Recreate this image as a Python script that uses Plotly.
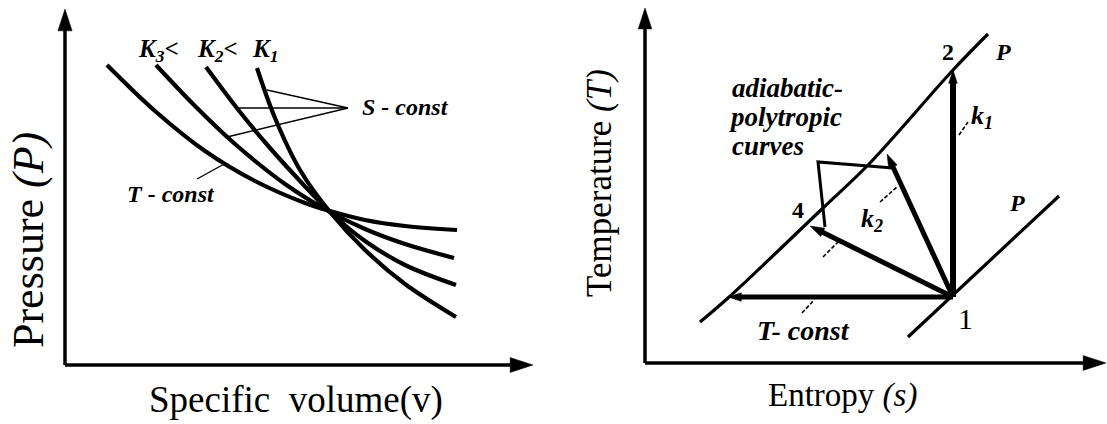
import plotly.graph_objects as go

# ---------------- p-v diagram (left panel) ----------------
# specific volume v and pressure P, arbitrary units measured from the axis origin
v_isotherm = [42, 90, 140, 190, 240, 265, 300, 340, 392]
p_isotherm = [300, 254, 214, 184, 162, 154, 145, 139, 135]
v_k3 = [91, 130, 170, 220, 265, 300, 340, 389]
p_k3 = [300, 259, 221, 181, 153, 136, 121, 107]
v_k2 = [141, 175, 205, 235, 265, 300, 340, 391]
p_k2 = [298, 253, 217, 184, 153, 124, 100, 80]
v_k1 = [192, 210, 235, 265, 300, 340, 391]
p_k1 = [297, 247, 195, 153, 115, 81, 48]

# leader lines pointing at the isentropes and at the isotherm
v_s_leader = [202, 283, 170, None, 283, 162]
p_s_leader = [275, 257, 257, None, 257, 228]
v_t_leader = [132, 161]
p_t_leader = [186, 202]

v_axis_end = 468
p_axis_end = 356

# ---------------- T-s diagram (right panel) ----------------
# entropy s and temperature T, arbitrary units measured from the axis origin
s_isobar_hi = [55, 83, 178, 225, 308, 343]
t_isobar_hi = [41, 65, 155, 200, 293, 329]
s_isobar_lo = [263, 414]
t_isobar_lo = [26, 167]

s_state1, t_state1 = 308, 66
s_state2, t_state2 = 308, 293
s_tconst_end, t_tconst_end = 83, 66
s_state4, t_state4 = 165, 137
s_poly_end, t_poly_end = 242, 209

s_outline = [248, 173, 180]
t_outline = [195, 201, 136]

# short dashed pointers towards the labels
s_ptr = [314, 323, None, 235, 252, None, 178, 195, None, 157, 169]
t_ptr = [228, 241, None, 161, 176, None, 106, 123, None, 50, 63]

s_axis_end = 461
t_axis_end = 355

SERIF = "Liberation Serif"
INK = "#000000"

fig = go.Figure()


def line(x, y, width, xa="x", ya="y", shape="linear", dash="solid"):
    fig.add_trace(go.Scatter(
        x=x, y=y, mode="lines", xaxis=xa, yaxis=ya, hoverinfo="skip",
        line=dict(color=INK, width=width, shape=shape, dash=dash, smoothing=1.0),
        connectgaps=False, showlegend=False))


def arrow(x, y, width, size, xa="x", ya="y"):
    fig.add_trace(go.Scatter(
        x=x, y=y, mode="lines+markers", xaxis=xa, yaxis=ya, hoverinfo="skip",
        line=dict(color=INK, width=width),
        marker=dict(symbol="arrow", size=[0] * (len(x) - 1) + [size],
                    angleref="previous", color=INK, opacity=1,
                    line=dict(color=INK, width=0.5)),
        showlegend=False))


# left panel axes
arrow([0, 0], [0, p_axis_end], 3.5, 23)
arrow([0, v_axis_end], [0, 0], 3.5, 24)

# left panel curves: isotherm and three isentropes meeting in one state
for vv, pp in [(v_isotherm, p_isotherm), (v_k3, p_k3), (v_k2, p_k2), (v_k1, p_k1)]:
    line(vv, pp, 4.2, shape="spline")
line(v_s_leader, p_s_leader, 1.4)
line(v_t_leader, p_t_leader, 1.4)

# right panel axes
arrow([0, 0], [0, t_axis_end], 3.5, 22, "x2", "y2")
arrow([0, s_axis_end], [0, 0], 3.5, 24, "x2", "y2")

# isobars
line(s_isobar_hi, t_isobar_hi, 3.2, "x2", "y2", shape="spline")
line(s_isobar_lo, t_isobar_lo, 3.2, "x2", "y2")

# processes starting from state 1
arrow([s_state1, s_state2], [t_state1, t_state2], 6, 14, "x2", "y2")
arrow([s_state1, s_tconst_end], [t_state1, t_tconst_end], 5, 14, "x2", "y2")
arrow([s_state1, s_state4], [t_state1, t_state4], 5, 15, "x2", "y2")
arrow([s_state1, s_poly_end], [t_state1, t_poly_end], 5, 15, "x2", "y2")
line(s_outline, t_outline, 3, "x2", "y2")
line(s_ptr, t_ptr, 1.6, "x2", "y2", dash="4px,2px")

ann = []


def label(x, y, text, size, xa="x", ya="y", xanchor="center", angle=0):
    ann.append(dict(x=x, y=y, xref=xa, yref=ya, text=text, showarrow=False,
                    xanchor=xanchor, yanchor="middle", textangle=angle,
                    font=dict(family=SERIF, size=size, color=INK)))


# left panel text
label(71, 315, "<b><i>K<sub>3</sub><</i></b>", 25, xanchor="left")
label(130, 315, "<b><i>K<sub>2</sub><</i></b>", 25, xanchor="left")
label(185, 315, "<b><i>K<sub>1</sub></i></b>", 25, xanchor="left")
label(295, 258, "<b><i>S - const</i></b>", 24, xanchor="left")
label(60, 171, "<b><i>T - const</i></b>", 24, xanchor="left")
label(-37, 125, "Pressure <i>(P)</i>", 44, angle=-90)
label(231, -35, "Specific\u00a0\u00a0volume(v)", 37)

# right panel text
label(303, 311, "<b>2</b>", 24, "x2", "y2")
label(358, 311, "<b><i>P</i></b>", 24, "x2", "y2")
label(372, 160, "<b><i>P</i></b>", 24, "x2", "y2")
label(153, 153, "<b>4</b>", 24, "x2", "y2")
label(320, 45, "1", 30, "x2", "y2")
label(337, 246, "<b><i>k<sub>1</sub></i></b>", 26, "x2", "y2")
label(227, 143, "<b><i>k<sub>2</sub></i></b>", 26, "x2", "y2")
label(85, 275, "<b><i>adiabatic-</i></b>", 27, "x2", "y2", xanchor="left")
label(82, 246, "<b><i>polytropic</i></b>", 27, "x2", "y2", xanchor="left")
label(85, 217, "<b><i>curves</i></b>", 27, "x2", "y2", xanchor="left")
label(158, 33, "<b><i>T- const</i></b>", 28, "x2", "y2")
label(-46, 180, "Temperature <i>(T)</i>", 35, "x2", "y2", angle=-90)
label(197, -32, "Entropy <i>(s)</i>", 33, "x2", "y2")

split = 560 / 1107
hidden = dict(visible=False, fixedrange=True)
fig.update_layout(
    width=1107, height=424,
    margin=dict(l=0, r=0, t=0, b=0),
    paper_bgcolor="white", plot_bgcolor="white",
    xaxis=dict(domain=[0, split], range=[-65, 495], **hidden),
    yaxis=dict(domain=[0, 1], range=[-59, 365], **hidden),
    xaxis2=dict(domain=[split, 1], range=[-85, 462], anchor="y2", **hidden),
    yaxis2=dict(domain=[0, 1], range=[-61, 363], anchor="x2", **hidden),
    annotations=ann,
    showlegend=False,
)

fig.write_html("out.html")
